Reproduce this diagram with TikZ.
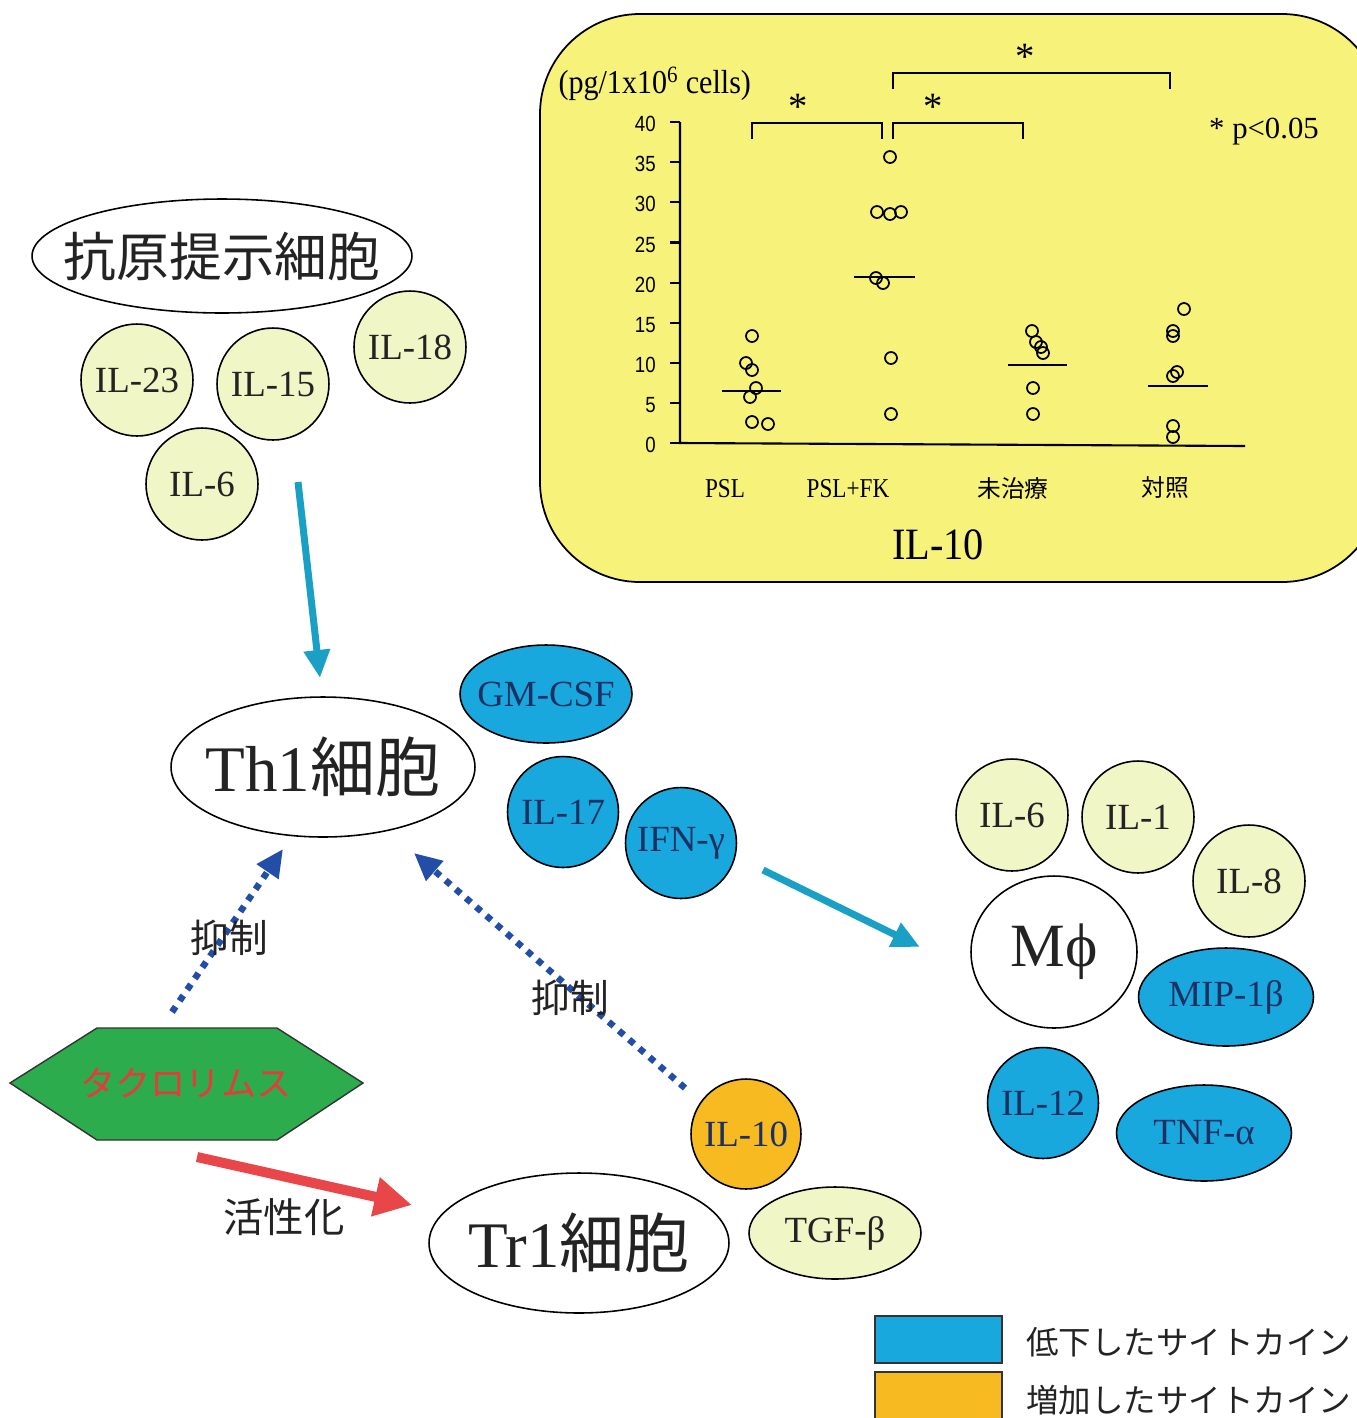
\documentclass[tikz,border=0pt]{standalone}
\usepackage{fontspec}
\setmainfont{Liberation Serif}
\newfontfamily\jp{Noto Sans CJK JP}
\newfontfamily\sansn{Liberation Sans}
\usetikzlibrary{shapes.geometric,arrows.meta}
\definecolor{palec}{RGB}{241,246,198}
\definecolor{bluec}{RGB}{24,168,222}
\definecolor{navy}{RGB}{28,48,100}
\definecolor{orangec}{RGB}{247,186,32}
\definecolor{yellowc}{RGB}{246,242,122}
\definecolor{greenc}{RGB}{44,172,76}
\definecolor{redtxt}{RGB}{232,58,58}
\definecolor{cyanc}{RGB}{26,160,196}
\definecolor{dotblue}{RGB}{34,78,168}
\definecolor{redarrow}{RGB}{232,70,72}
\definecolor{txt}{RGB}{35,35,35}
\newcommand{\zw}[1]{\makebox[0pt]{#1}}
\tikzset{
  cyt/.style={draw=black, line width=0.9pt, inner sep=0pt, text=txt, font=\fontsize{21}{21}\selectfont},
  lc/.style={cyt, circle, fill=palec, minimum size=2.24cm},
  bc/.style={cyt, circle, fill=bluec, text=navy, minimum size=2.22cm},
  be/.style={cyt, ellipse, fill=bluec, text=navy, minimum width=3.5cm, minimum height=1.96cm},
  cell/.style={draw=black, line width=0.9pt, ellipse, fill=white, inner sep=0pt, text=txt},
  bigcell/.style={cell, font=\fontsize{37}{37}\selectfont},
  cyanarrow/.style={draw=cyanc, line width=0.14cm, -{Triangle[length=0.56cm,width=0.5cm]}},
  dotarrow/.style={draw=dotblue, line width=0.13cm, dash pattern=on 0.13cm off 0.14cm, -{Triangle[length=0.55cm,width=0.5cm]}},
  redarr/.style={draw=redarrow, line width=0.2cm, -{Triangle[length=0.75cm,width=0.75cm]}},
  jplabel/.style={text=txt, font=\jp\fontsize{22}{22}\selectfont},
  chart/.style={line width=1.2pt, draw=black},
  pt/.style={line width=1pt, draw=black},
  tick/.style={font=\sansn\fontsize{12.5}{12.5}\selectfont, anchor=east, xscale=0.85},
  catlab/.style={font=\fontsize{15.5}{15.5}\selectfont, xscale=0.85},
  legtxt/.style={text=txt, font=\jp\fontsize{18.5}{18.5}\selectfont, anchor=west}
}
\begin{document}
\begin{tikzpicture}[x=0.02cm,y=-0.02cm]
\useasboundingbox (0,0) rectangle (1357,1418);

% ---------- chart panel ----------
\draw[fill=yellowc, line width=1pt, rounded corners=2cm] (540,14) rectangle (1382,582);
\draw[chart] (680,122) -- (680,443) -- (1245,446);
\foreach \v [evaluate=\v as \yy using 443-\v*40.1, evaluate=\v as \lab using int(\v*5)] in {0,...,8} {
  \draw[chart] (670,\yy) -- (680,\yy);
  \node[tick] at (661,\yy+2) {\lab};
}
% data points
\foreach \px/\py in {752/336, 746/363, 752/370, 756/388, 750/397, 752/422, 768/424,
  890/157, 877/212, 890/214, 901/212, 876/278, 883/283, 891/358, 891/414,
  1032/331, 1036/342, 1041/347, 1043/353, 1033/388, 1033/414,
  1184/309, 1173/331, 1173/336, 1177/372, 1173/376, 1173/426, 1173/437} {
  \draw[pt] (\px,\py) circle[radius=0.12cm];
}
% medians
\draw[chart] (722,391) -- (781,391);
\draw[chart] (854,277) -- (915,277);
\draw[chart] (1008,365) -- (1067,365);
\draw[chart] (1148,386) -- (1208,386);
% brackets
\draw[chart] (752,139) -- (752,123) -- (882,123) -- (882,139);
\draw[chart] (893,139) -- (893,123) -- (1023,123) -- (1023,139);
\draw[chart] (893,89) -- (893,73) -- (1170,73) -- (1170,89);
\node[font=\fontsize{22}{22}\selectfont] at (798,107) {*};
\node[font=\fontsize{22}{22}\selectfont] at (933,107) {*};
\node[font=\fontsize{22}{22}\selectfont] at (1025,57) {*};
\node[font=\fontsize{17.5}{17.5}\selectfont, anchor=west] at (1203,132) {* p<0.05};
\node[font=\fontsize{19}{19}\selectfont, anchor=west, xscale=0.9] at (553,84) {(pg/1x10\textsuperscript{6} cells)};
\node[catlab] at (725,489) {PSL};
\node[catlab] at (848,489) {PSL+FK};
\node[font=\jp\fontsize{13.5}{13.5}\selectfont] at (1013,488) {未治療};
\node[font=\jp\fontsize{13.5}{13.5}\selectfont] at (1165,488) {対照};
\node[font=\fontsize{25.5}{25.5}\selectfont, xscale=0.9] at (938,545) {IL-10};

% ---------- antigen presenting cell ----------
\node[cell, minimum width=7.6cm, minimum height=2.28cm, font=\jp\fontsize{30}{30}\selectfont] (apc) at (222,256) {\zw{抗原提示細胞}};
\node[lc] (il23) at (137,380) {IL-23};
\node[lc] (il15) at (273,384) {IL-15};
\node[lc] (il18) at (410,347) {IL-18};
\node[lc] (il6a) at (202,484) {IL-6};

% ---------- Th1 ----------
\node[bigcell, minimum width=6.08cm, minimum height=2.8cm] (th1) at (323,767) {\zw{Th1{\jp 細胞}}};
\node[be, minimum width=3.44cm] (gmcsf) at (546,694) {\zw{GM-CSF}};
\node[bc] (il17) at (563,812) {IL-17};
\node[bc] (ifng) at (681,843) {IFN-γ};

% ---------- macrophage ----------
\node[cell, minimum width=3.32cm, minimum height=3.04cm, font=\fontsize{35}{35}\selectfont] (mphi) at (1054,952) {\zw{Mϕ}};
\node[lc] (il6b) at (1012,815) {IL-6};
\node[lc] (il1) at (1138,817) {IL-1};
\node[lc] (il8) at (1249,881) {IL-8};
\node[be] (mip) at (1226,997) {\zw{MIP-1β}};
\node[bc] (il12) at (1043,1103) {IL-12};
\node[be, minimum height=1.92cm] (tnf) at (1204,1133) {\zw{TNF-α}};

% ---------- Tr1 ----------
\node[bigcell, minimum width=6.0cm, minimum height=2.8cm] (tr1) at (579,1243) {\zw{Tr1{\jp 細胞}}};
\node[cyt, circle, fill=orangec, text=navy, minimum size=2.2cm] (il10) at (746,1134) {IL-10};
\node[cyt, ellipse, fill=palec, minimum width=3.44cm, minimum height=1.84cm] (tgfb) at (835,1233) {\zw{TGF-β}};

% ---------- tacrolimus ----------
\draw[fill=greenc, draw=black!80, line width=0.8pt] (10,1083) -- (97,1028) -- (277,1028) -- (363,1083) -- (277,1140) -- (97,1140) -- cycle;
\node[text=redtxt, font=\jp\fontsize{20}{20}\selectfont] (tac) at (186,1083) {タクロリムス};

% ---------- connectors ----------
\coordinate (c1s) at (298,482);
\coordinate (c1e) at (320,678);
\draw[cyanarrow] (c1s) -- (c1e);
\coordinate (c2s) at (763,870);
\coordinate (c2e) at (920,947);
\draw[cyanarrow] (c2s) -- (c2e);
\coordinate (d1s) at (172,1012);
\coordinate (d1e) at (283,849);
\draw[dotarrow] (d1s) -- (d1e);
\coordinate (d2s) at (685,1088);
\coordinate (d2e) at (414,853);
\draw[dotarrow] (d2s) -- (d2e);
\coordinate (r1s) at (197,1157);
\coordinate (r1e) at (412,1205);
\draw[redarr] (r1s) -- (r1e);

\node[jplabel] (sup1) at (229,938) {抑制};
\node[jplabel] (sup2) at (570,998) {抑制};
\node[jplabel, font=\jp\fontsize{23}{23}\selectfont] (act) at (284,1217) {活性化};

% ---------- legend ----------
\draw[fill=bluec, draw=black!80, line width=0.8pt] (875,1316) rectangle (1002,1363);
\draw[fill=orangec, draw=black!80, line width=0.8pt] (875,1372) rectangle (1002,1425);
\node[legtxt] at (1020,1342) {低下したサイトカイン};
\node[legtxt] at (1020,1400) {増加したサイトカイン};
\end{tikzpicture}
\end{document}
